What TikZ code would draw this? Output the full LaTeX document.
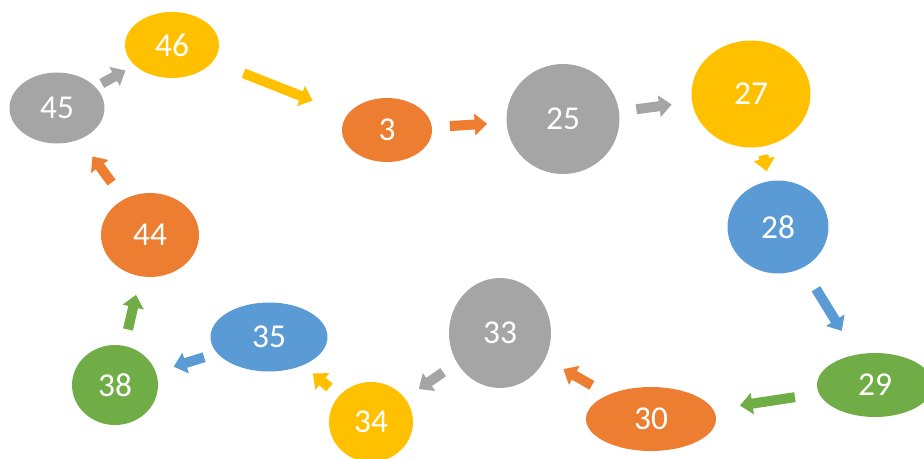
\documentclass[tikz,border=0pt]{standalone}
\usepackage{fontspec}
\setmainfont{Carlito}
\usetikzlibrary{shapes,arrows.meta}
\definecolor{gry}{HTML}{A5A5A5}
\definecolor{org}{HTML}{ED7D31}
\definecolor{yel}{HTML}{FFC000}
\definecolor{blu}{HTML}{5B9BD5}
\definecolor{grn}{HTML}{70AD47}
\begin{document}
\begin{tikzpicture}[x=0.02cm,y=-0.02cm]
\clip (0,0) rectangle (924,459);
\tikzstyle{every node}=[shape=ellipse, inner sep=0pt, outer sep=0pt, text=white, font=\fontsize{19}{21}\selectfont];
\tikzstyle{blk}=[line width=0.2cm, -{Triangle[width=0.42cm,length=0.25cm]}];
\draw (172,45) node[fill=yel, minimum width=1.88cm, minimum height=1.32cm] (n46) {46};
\draw (57,108) node[fill=gry, minimum width=1.90cm, minimum height=1.42cm] (n45) {45};
\draw (387,130) node[fill=org, minimum width=1.80cm, minimum height=1.28cm] (n3) {3};
\draw (563,119) node[fill=gry, minimum width=2.26cm, minimum height=2.20cm] (n25) {25};
\draw (751,94) node[fill=yel, minimum width=2.38cm, minimum height=2.14cm] (n27) {27};
\draw (778,227) node[fill=blu, minimum width=2.02cm, minimum height=1.86cm] (n28) {28};
\draw (875,385) node[fill=grn, minimum width=2.32cm, minimum height=1.28cm] (n29) {29};
\draw (651,419) node[fill=org, minimum width=2.60cm, minimum height=1.28cm] (n30) {30};
\draw (500,333) node[fill=gry, minimum width=2.04cm, minimum height=2.20cm] (n33) {33};
\draw (371,422) node[fill=yel, minimum width=1.68cm, minimum height=1.60cm] (n34) {34};
\draw (269,337) node[fill=blu, minimum width=2.34cm, minimum height=1.38cm] (n35) {35};
\draw (115,385) node[fill=grn, minimum width=1.72cm, minimum height=1.60cm] (n38) {38};
\draw (150,235) node[fill=org, minimum width=1.96cm, minimum height=1.68cm] (n44) {44};

\draw[blk, gry, shorten <=1.02cm, shorten >=1.06cm] (n45.center) -- (n46.center);
\draw[blk, yel, shorten <=1.54cm, shorten >=1.60cm] (n46.center) -- (n3.center);
\draw[blk, org, shorten <=1.26cm, shorten >=1.52cm] (n3.center) -- (n25.center);
\draw[blk, gry, shorten <=1.48cm, shorten >=1.60cm] (n25.center) -- (n27.center);
\draw[blk, yel, shorten <=1.25cm, shorten >=1.14cm] (n27.center) -- (n28.center);
\draw[blk, blu, shorten <=1.45cm, shorten >=1.27cm] (n28.center) -- (n29.center);
\draw[blk, grn, shorten <=1.62cm, shorten >=1.80cm] (n29.center) -- (n30.center);
\draw[blk, org, shorten <=1.36cm, shorten >=1.46cm] (n30.center) -- (n33.center);
\draw[blk, gry, shorten <=1.38cm, shorten >=1.16cm] (n33.center) -- (n34.center);
\draw[blk, yel, shorten <=1.08cm, shorten >=1.14cm] (n34.center) -- (n35.center);
\draw[blk, blu, shorten <=1.36cm, shorten >=1.23cm] (n35.center) -- (n38.center);
\draw[blk, grn, shorten <=1.14cm, shorten >=1.23cm] (n38.center) -- (n44.center);
\draw[blk, org, shorten <=1.30cm, shorten >=1.20cm] (n44.center) -- (n45.center);
\end{tikzpicture}
\end{document}
